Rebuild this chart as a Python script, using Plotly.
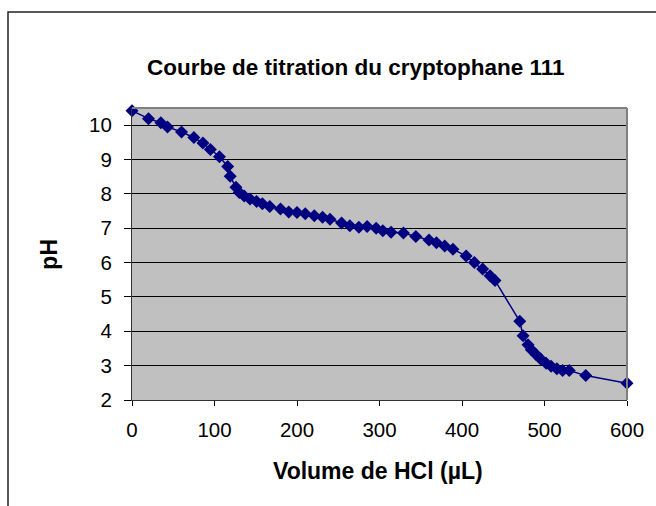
import plotly.graph_objects as go

# Titration data: volume of HCl added (µL) and measured pH
volume_ul = [0, 20, 35, 43, 60, 75, 86, 95, 106, 116,
             119, 126, 130, 136, 143, 151, 158, 167, 180, 190,
             200, 210, 221, 231, 240, 254, 264, 275, 285, 296,
             304, 314, 329, 344, 360, 369, 379, 389, 405, 415,
             425, 434, 440, 470, 474, 480, 484, 490, 495, 502,
             508, 515, 522, 530, 550, 600]
ph_values = [10.42, 10.19, 10.07, 9.95, 9.80, 9.64, 9.48, 9.29, 9.08, 8.80,
             8.51, 8.19, 8.04, 7.94, 7.85, 7.78, 7.71, 7.63, 7.56, 7.47,
             7.46, 7.42, 7.36, 7.32, 7.26, 7.15, 7.07, 7.03, 7.05, 7.00,
             6.93, 6.88, 6.86, 6.76, 6.66, 6.58, 6.48, 6.39, 6.19, 6.00,
             5.81, 5.62, 5.48, 4.29, 3.87, 3.61, 3.46, 3.32, 3.20, 3.07,
             2.98, 2.91, 2.86, 2.86, 2.71, 2.49]

x_ticks = [0, 100, 200, 300, 400, 500, 600]
y_ticks = [2, 3, 4, 5, 6, 7, 8, 9, 10]

FONT = "Arial, Liberation Sans, sans-serif"
NAVY = "#000080"

fig = go.Figure()
fig.add_trace(go.Scatter(
    x=volume_ul, y=ph_values,
    mode="lines+markers",
    line=dict(color=NAVY, width=1.5),
    marker=dict(symbol="diamond", size=10, color=NAVY),
    cliponaxis=False,
    showlegend=False,
))

fig.update_layout(
    width=656, height=506,
    margin=dict(l=132, r=25, t=108, b=106),
    paper_bgcolor="white",
    plot_bgcolor="#C0C0C0",
    font=dict(family=FONT, color="black"),
    xaxis=dict(
        range=[0, 600], tickvals=x_ticks, ticks="outside", ticklen=5,
        tickcolor="black", showgrid=False, zeroline=False,
        showline=True, linecolor="#333333", linewidth=1,
        tickfont=dict(size=20.5), ticklabelstandoff=6,
    ),
    yaxis=dict(
        range=[2, 10.5], tickvals=y_ticks, ticks="outside", ticklen=7,
        tickcolor="black", showgrid=True, gridcolor="black", gridwidth=1,
        zeroline=False, showline=True, linecolor="#333333", linewidth=1,
        tickfont=dict(size=20.5), ticklabelstandoff=8,
    ),
    annotations=[
        dict(text="<b>Courbe de titration du cryptophane 111</b>",
             xref="paper", yref="paper", x=(358 - 132) / 499, y=(400 - 68) / 292,
             xanchor="center", yanchor="middle", showarrow=False,
             font=dict(size=22.5)),
        dict(text="<b>Volume de HCl (µL)</b>",
             xref="paper", yref="paper", x=(380 - 132) / 499, y=(400 - 471) / 292,
             xanchor="center", yanchor="middle", showarrow=False,
             font=dict(size=23)),
        dict(text="<b>pH</b>", textangle=-90,
             xref="paper", yref="paper", x=(48 - 132) / 499, y=(400 - 254) / 292,
             xanchor="center", yanchor="middle", showarrow=False,
             font=dict(size=23)),
    ],
    shapes=[
        # grey plot-area border on top and right
        dict(type="line", xref="paper", yref="paper", x0=0, x1=1, y0=1, y1=1,
             line=dict(color="#808080", width=2)),
        dict(type="line", xref="paper", yref="paper", x0=1, x1=1, y0=0, y1=1,
             line=dict(color="#808080", width=2)),
        # outer chart frame
        dict(type="rect", xref="paper", yref="paper",
             x0=(7 - 132) / 499, x1=(700 - 132) / 499,
             y0=(400 - 560) / 292, y1=(400 - 12) / 292,
             line=dict(color="#222222", width=1.5)),
    ],
)

fig.write_html("out.html")
